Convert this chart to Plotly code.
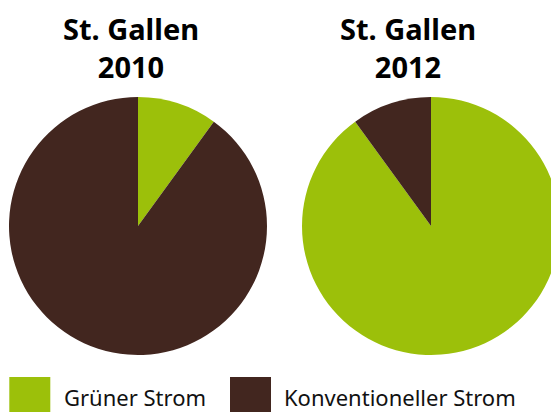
import plotly.graph_objects as go

# Share of electricity by source, St. Gallen
categories = ["Grüner Strom", "Konventioneller Strom"]
values_2010 = [10, 90]
values_2012 = [90, 10]
titles = [("St. Gallen", "2010"), ("St. Gallen", "2012")]

GREEN = "#9CC00A"
BROWN = "#42261F"
colors = [GREEN, BROWN]

W, H = 570, 412

def px_x(x):
    return x / W

def px_y(y):
    return 1 - y / H

fig = go.Figure()

pie_style = dict(
    sort=False,
    direction="clockwise",
    rotation=0,
    textinfo="none",
    hoverinfo="label+percent",
    marker=dict(colors=colors, line=dict(width=0)),
    showlegend=False,
)

# Pie 2010: centre (138, 226), radius 129
fig.add_trace(go.Pie(
    labels=categories, values=values_2010,
    domain=dict(x=[px_x(9), px_x(267)], y=[px_y(355), px_y(97)]),
    **pie_style,
))
# Pie 2012: centre (431, 226), radius 129
fig.add_trace(go.Pie(
    labels=categories, values=values_2012,
    domain=dict(x=[px_x(302), px_x(560)], y=[px_y(355), px_y(97)]),
    **pie_style,
))

# Two-line bold titles above each pie
title_font = dict(family="Noto Sans", size=29, color="#000000")
annotations = []
for cx, (line1, line2) in zip([130.5, 408], titles):
    annotations.append(dict(x=px_x(cx), y=px_y(47), xref="paper", yref="paper",
                            text=f"<b>{line1}</b><br><b>{line2}</b>", showarrow=False,
                            align="center", xanchor="center", yanchor="middle",
                            font=title_font))

# Legend: large colour swatches with labels
legend_font = dict(family="Noto Sans", size=22, color="#111111")
shapes = []
for (x0, tx), label, col in zip([(9.3, 62), (230, 282)], categories, colors):
    shapes.append(dict(type="rect", xref="paper", yref="paper",
                       x0=px_x(x0), x1=px_x(x0 + 41), y0=px_y(418), y1=px_y(377),
                       fillcolor=col, line=dict(width=0)))
    annotations.append(dict(x=px_x(tx), y=px_y(397), xref="paper", yref="paper",
                            text=label, showarrow=False,
                            xanchor="left", yanchor="middle", font=legend_font))

fig.update_layout(
    width=W, height=H,
    margin=dict(l=0, r=0, t=0, b=0),
    paper_bgcolor="white",
    plot_bgcolor="white",
    annotations=annotations,
    shapes=shapes,
)

fig.write_html(
    "out.html",
    post_script="document.documentElement.style.overflow='hidden';"
                "document.body.style.overflow='hidden';",
)
